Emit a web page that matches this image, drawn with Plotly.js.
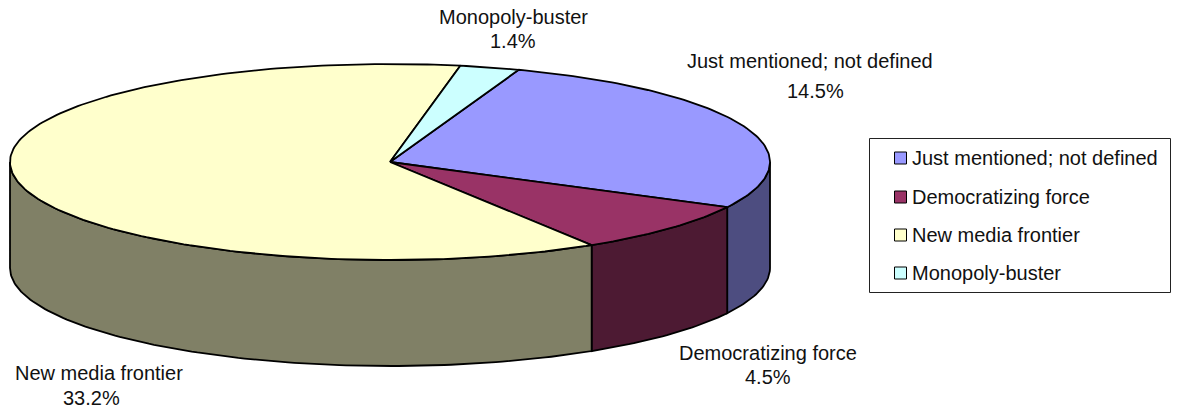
<!DOCTYPE html>
<html>
<head>
<meta charset="utf-8">
<script src="https://cdn.plot.ly/plotly-3.0.1.min.js"></script>
<style>html,body{margin:0;padding:0;background:#fff;overflow:hidden}</style>
</head>
<body>
<div id="chart" style="width:1178px;height:411px"></div>
<script>
// Data
var categories = ['Just mentioned; not defined', 'Democratizing force', 'New media frontier', 'Monopoly-buster'];
var values = [14.54, 4.54, 33.16, 1.36];
// Styles
var topColors = ['#9999FF', '#993366', '#FFFFCC', '#CCFFFF'];
var sideColors = ['#4D4D80', '#4D1A33', '#808066', '#668080'];
// Pie projection (in px units)
var cx = 390, cy = 162, rx = 380, ry = 98, depth = 106, startAngle = 19.8;
var FONT = 'Liberation Sans, Arial, sans-serif', FS = 20;

function pt(deg, dz) {
  var r = deg * Math.PI / 180;
  return [cx + rx * Math.sin(r), cy - ry * Math.cos(r) + (dz || 0)];
}
function arc(a, b, dz) {
  var out = [], n = Math.max(2, Math.ceil(Math.abs(b - a)));
  for (var i = 0; i <= n; i++) out.push(pt(a + (b - a) * i / n, dz));
  return out;
}
var total = values.reduce(function (s, v) { return s + v; }, 0);
var spans = [], acc = startAngle;
values.forEach(function (v) { var e = acc + v / total * 360; spans.push([acc, e]); acc = e; });

function poly(points, fill) {
  return {
    type: 'scatter', mode: 'lines', fill: 'toself', fillcolor: fill,
    x: points.map(function (p) { return p[0]; }),
    y: points.map(function (p) { return p[1]; }),
    line: { color: '#000', width: 1.8 }, hoverinfo: 'skip', showlegend: false
  };
}
var traces = [];
// Walls: the visible front half of the rim runs from 90 to 270 degrees clockwise from the back
spans.forEach(function (s, i) {
  var a = Math.max(s[0], 90), b = Math.min(s[1], 270);
  if (b > a) traces.push(poly(arc(a, b, 0).concat(arc(b, a, depth)).concat([pt(a, 0)]), sideColors[i]));
});
// Top face
spans.forEach(function (s, i) {
  traces.push(poly([[cx, cy]].concat(arc(s[0], s[1], 0)).concat([[cx, cy]]), topColors[i]));
});

var ann = [], shapes = [];
function text(t, x, y, anchor) {
  ann.push({ xref: 'x', yref: 'y', x: x, y: y, text: t, showarrow: false, xanchor: anchor || 'center', yanchor: 'middle',
    font: { family: FONT, size: FS, color: '#111' } });
}
// Data labels: name line and value line
var nameAt = [[810, 61], [768, 353], [99, 373], [513, 17]];
var valueAt = [[815, 91], [768, 377], [91, 398], [513, 41]];
categories.forEach(function (c, i) {
  text(c, nameAt[i][0], nameAt[i][1]);
  text(values[i].toFixed(1) + '%', valueAt[i][0], valueAt[i][1]);
});
// Legend
shapes.push({ type: 'rect', xref: 'x', yref: 'y', x0: 869.5, x1: 1170.5, y0: 138.5, y1: 292.5, line: { color: '#222', width: 1 }, fillcolor: '#fff' });
var legendY = [158, 197, 235, 273];
categories.forEach(function (c, i) {
  shapes.push({ type: 'rect', xref: 'x', yref: 'y', x0: 894.5, x1: 906.5, y0: legendY[i] - 6, y1: legendY[i] + 6,
    fillcolor: topColors[i], line: { color: '#000', width: 1 } });
  text(c, 909.5, legendY[i], 'left');
});

Plotly.newPlot('chart', traces, {
  width: 1178, height: 411, autosize: false,
  margin: { l: 0, r: 0, t: 0, b: 0 },
  paper_bgcolor: '#fff', plot_bgcolor: '#fff', showlegend: false,
  xaxis: { range: [0, 1178], visible: false, fixedrange: true },
  yaxis: { range: [411, 0], visible: false, fixedrange: true },
  shapes: shapes, annotations: ann
}, { displayModeBar: false, staticPlot: true });
</script>
</body>
</html>
